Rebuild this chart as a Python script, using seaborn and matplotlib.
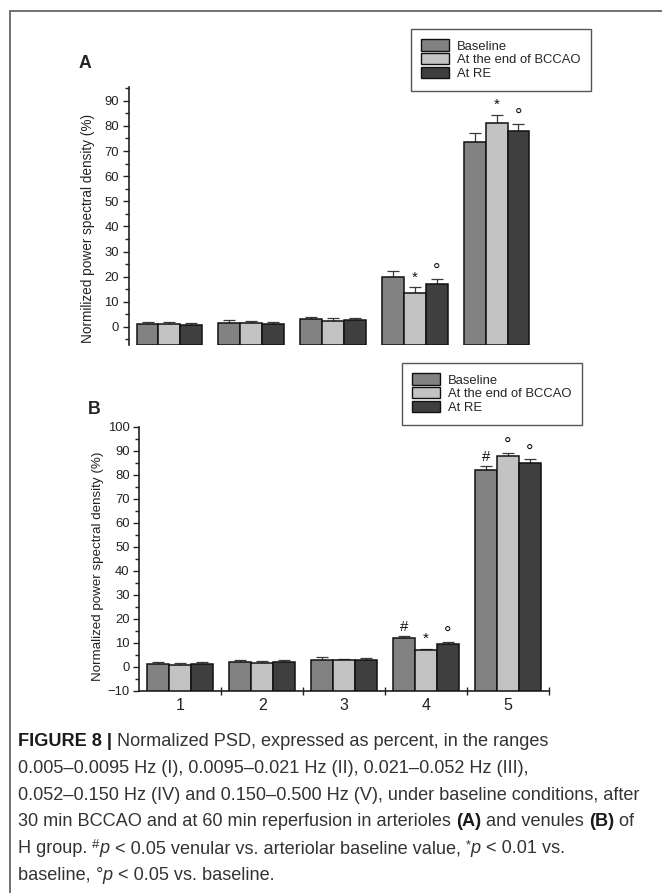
import numpy as np
import pandas as pd
import matplotlib
matplotlib.use("Agg")
import matplotlib.pyplot as plt
import seaborn as sns
from matplotlib.patches import Patch
from matplotlib.lines import Line2D
from matplotlib.ticker import MultipleLocator

# ---------------------------------------------------------------- data
bands = ["1", "2", "3", "4", "5"]
conditions = ["Baseline", "At the end of BCCAO", "At RE"]

# Arterioles (A): normalized PSD (%) and SEM
art_baseline = [1.2, 1.7, 3.0, 20.0, 73.8]
art_bccao = [1.0, 1.4, 2.5, 13.5, 81.3]
art_re = [0.9, 1.2, 2.9, 16.9, 77.8]
art_baseline_err = [0.9, 1.0, 0.9, 2.1, 3.2]
art_bccao_err = [0.8, 0.8, 0.9, 2.2, 3.1]
art_re_err = [0.8, 0.9, 0.8, 2.1, 3.0]
art_baseline_sig = ["", "", "", "", ""]
art_bccao_sig = ["", "", "", "*", "*"]
art_re_sig = ["", "", "", "°", "°"]

# Venules (B): normalized PSD (%) and SEM
ven_baseline = [1.0, 2.1, 3.0, 11.8, 81.8]
ven_bccao = [0.8, 1.7, 2.6, 6.8, 88.0]
ven_re = [1.0, 1.9, 2.9, 9.3, 85.0]
ven_baseline_err = [0.9, 0.9, 1.0, 1.0, 1.8]
ven_bccao_err = [0.8, 0.8, 0.7, 0.6, 1.0]
ven_re_err = [0.8, 0.8, 0.9, 1.0, 1.4]
ven_baseline_sig = ["", "", "", "#", "#"]
ven_bccao_sig = ["", "", "", "*", "°"]
ven_re_sig = ["", "", "", "°", "°"]

palette = ["#828282", "#c3c3c3", "#3f3f3f"]

# ---------------------------------------------------------------- style
sns.set_style("ticks")
plt.rcParams["font.family"] = ["Liberation Sans", "DejaVu Sans"]
plt.rcParams["axes.linewidth"] = 1.2
plt.rcParams["axes.edgecolor"] = "#222222"

W, H = 662, 893
fig = plt.figure(figsize=(W / 100, H / 100), dpi=100)
fig.patch.set_facecolor("white")


def fx(px):
    return px / W


def fy(py):
    return 1 - py / H


def make_frame(values, errs, sigs):
    rows = []
    for cond, vals, er, sg in zip(conditions, values, errs, sigs):
        for b, v, e, s in zip(bands, vals, er, sg):
            rows.append({"band": b, "condition": cond, "value": v, "err": e, "sig": s})
    return pd.DataFrame(rows)


# symbol size and lift above the error-bar cap (pixels)
SIG_STYLE = {"*": (10.8, 6), "#": (10.8, 5), "°": (13.5, 3)}


def draw_panel(ax, df, ymin, ymax, show_x):
    sns.barplot(data=df, x="band", y="value", hue="condition", order=bands,
                hue_order=conditions, palette=palette, width=0.8,
                edgecolor="#111111", linewidth=1.1, errorbar=None,
                legend=False, ax=ax, zorder=3)
    ax.set_ylim(ymin, ymax)
    ax.set_xlim(-0.5, 4.5)
    for cond, cont in zip(conditions, ax.containers):
        sub = df[df["condition"] == cond].set_index("band").loc[bands]
        for bar, (_, r) in zip(cont, sub.iterrows()):
            v = r["value"]
            # bars rise from the bottom of the value axis
            bar.set_y(ymin)
            bar.set_height(v - ymin)
            xc = bar.get_x() + bar.get_width() / 2
            ax.errorbar([xc], [v], yerr=[[0], [r["err"]]], fmt="none",
                        ecolor="#3a3a3a", elinewidth=0.9, capsize=4.2,
                        capthick=0.9, zorder=2)
            if r["sig"]:
                size, lift = SIG_STYLE[r["sig"]]
                ax.annotate(r["sig"], xy=(xc, v + r["err"]), xytext=(0, lift),
                            textcoords="offset pixels", ha="center",
                            va="baseline", fontsize=size, color="#111111")
    ax.yaxis.set_major_locator(MultipleLocator(10))
    ax.yaxis.set_minor_locator(MultipleLocator(5))
    ax.tick_params(axis="y", which="major", length=4.5, width=1.0,
                   labelsize=9.4, pad=2.5, colors="#222222")
    ax.tick_params(axis="y", which="minor", length=2.6, width=1.0,
                   colors="#222222")
    ax.set_xlabel("")
    ax.set_ylabel("")
    sns.despine(ax=ax, top=True, right=True, bottom=not show_x)
    if show_x:
        ax.set_xticks(range(len(bands)))
        ax.set_xticklabels(bands)
        ax.set_xticks(np.arange(0.5, 4.6, 1.0), minor=True)
        ax.tick_params(axis="x", which="major", length=0, labelsize=11.5,
                       pad=5, colors="#222222")
        ax.tick_params(axis="x", which="minor", length=6, width=1.0,
                       direction="inout", colors="#222222")
    else:
        ax.set_xticks([])


def add_legend(x_px, y_px):
    handles = [Patch(facecolor=c, edgecolor="#111111", linewidth=1.0)
               for c in palette]
    leg = fig.legend(handles, conditions, loc="upper left",
                     bbox_to_anchor=(fx(x_px), fy(y_px)), borderaxespad=0,
                     fontsize=9.4, frameon=True, fancybox=False, framealpha=1,
                     edgecolor="#555555", borderpad=0.8, labelspacing=0.05,
                     handlelength=2.1, handleheight=0.95, handletextpad=0.6)
    leg.get_frame().set_linewidth(1.0)


# ---------------------------------------------------------------- panel A
axA = fig.add_axes([fx(128.5), fy(345), 409 / W, 258 / H])
dfA = make_frame([art_baseline, art_bccao, art_re],
                 [art_baseline_err, art_bccao_err, art_re_err],
                 [art_baseline_sig, art_bccao_sig, art_re_sig])
draw_panel(axA, dfA, -7.2, 95.5, show_x=False)
add_legend(411, 29)
fig.text(fx(79), fy(63), "A", fontsize=12.8, fontweight="bold",
         ha="left", va="center")
fig.text(fx(88), fy(228), "Normilized power spectral density (%)",
         rotation=90, fontsize=9.8, ha="center", va="center", color="#222222")

# ---------------------------------------------------------------- panel B
axB = fig.add_axes([fx(139.3), fy(690.7), 409.7 / W, 264 / H])
dfB = make_frame([ven_baseline, ven_bccao, ven_re],
                 [ven_baseline_err, ven_bccao_err, ven_re_err],
                 [ven_baseline_sig, ven_bccao_sig, ven_re_sig])
draw_panel(axB, dfB, -10, 100, show_x=True)
add_legend(402, 363)
fig.text(fx(88), fy(409), "B", fontsize=12.8, fontweight="bold",
         ha="left", va="center")
fig.text(fx(98), fy(566), "Normalized power spectral density (%)",
         rotation=90, fontsize=9.6, ha="center", va="center", color="#222222")

# ---------------------------------------------------------------- frame
fig.add_artist(Line2D([fx(9.5), fx(W + 5)], [fy(11), fy(11)],
                      transform=fig.transFigure, color="#666666", lw=1.3))
fig.add_artist(Line2D([fx(9.5), fx(9.5)], [fy(11), fy(H + 5)],
                      transform=fig.transFigure, color="#666666", lw=1.3))

# ---------------------------------------------------------------- caption
renderer = fig.canvas.get_renderer()
cap_size = 13.1
REG = dict(fontsize=cap_size, color="#333333")
BOLD = dict(fontsize=cap_size, color="#1a1a1a", fontweight="bold")
ITAL = dict(fontsize=cap_size, color="#333333", style="italic")
SUP = dict(fontsize=cap_size * 0.72, color="#333333", rise=5)


def seg_width(text, kw):
    kw = {k: v for k, v in kw.items() if k != "rise"}
    t1 = fig.text(0, 0, text + "|", **kw)
    t2 = fig.text(0, 0, "|", **kw)
    w = (t1.get_window_extent(renderer).width
         - t2.get_window_extent(renderer).width)
    t1.remove()
    t2.remove()
    return w


def rich_line(x_px, y_px, segments):
    x = x_px
    for text, kw in segments:
        rise = kw.get("rise", 0)
        kw2 = {k: v for k, v in kw.items() if k != "rise"}
        fig.text(fx(x), fy(y_px - rise), text, ha="left", va="baseline", **kw2)
        x += seg_width(text, kw)


caption = [
    [("FIGURE 8 |", BOLD), (" Normalized PSD, expressed as percent, in the ranges", REG)],
    [("0.005–0.0095 Hz (I), 0.0095–0.021 Hz (II), 0.021–0.052 Hz (III),", REG)],
    [("0.052–0.150 Hz (IV) and 0.150–0.500 Hz (V), under baseline conditions, after", REG)],
    [("30 min BCCAO and at 60 min reperfusion in arterioles ", REG), ("(A)", BOLD),
     (" and venules ", REG), ("(B)", BOLD), (" of", REG)],
    [("H group. ", REG), ("#", SUP), ("p", ITAL),
     (" < 0.05 venular vs. arteriolar baseline value, ", REG), ("*", SUP),
     ("p", ITAL), (" < 0.01 vs.", REG)],
    [("baseline, ", REG), ("°", REG), ("p", ITAL), (" < 0.05 vs. baseline.", REG)],
]
y0, dy = 746, 26.8
for i, segs in enumerate(caption):
    rich_line(18, y0 + i * dy, segs)

fig.savefig("out.png", dpi=100, facecolor="white")
